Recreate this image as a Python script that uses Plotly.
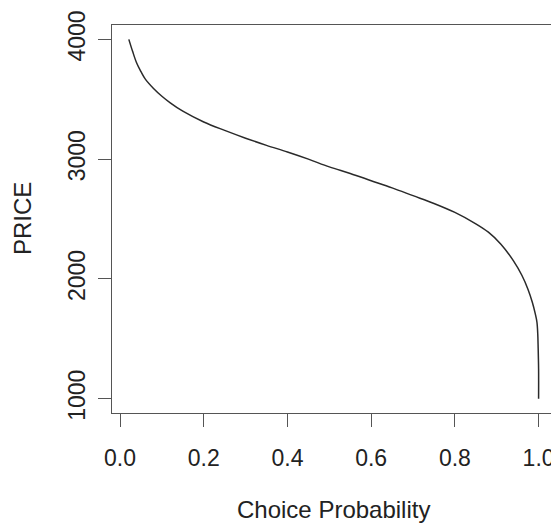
import plotly.graph_objects as go

# Values
choice_prob = [0.021, 0.030, 0.040, 0.050, 0.060, 0.080, 0.100, 0.120, 0.150, 0.200,
               0.250, 0.300, 0.350, 0.400, 0.450, 0.500, 0.550, 0.600, 0.650, 0.700,
               0.750, 0.800, 0.850, 0.880, 0.910, 0.940, 0.960, 0.975, 0.985, 0.992,
               0.996, 0.998, 0.999, 1.000, 1.000]
price = [4000, 3900, 3800, 3730, 3670, 3590, 3525, 3470, 3400, 3310,
         3240, 3175, 3115, 3060, 3000, 2935, 2880, 2820, 2760, 2695,
         2630, 2555, 2460, 2390, 2290, 2150, 2030, 1910, 1805, 1710,
         1640, 1540, 1420, 1250, 1000]

x_ticks = [0.0, 0.2, 0.4, 0.6, 0.8, 1.0]
x_ticktext = ["0.0", "0.2", "0.4", "0.6", "0.8", "1.0"]
y_ticks = [1000, 2000, 3000, 4000]
y_ticktext = ["1000", "2000", "3000", "4000"]

FONT = "Liberation Sans, Arial, sans-serif"
AXC = "#555555"
TXT = "#222222"
FS_TICK = 23
FS_TITLE = 24

fig = go.Figure()
fig.add_trace(go.Scatter(x=choice_prob, y=price, mode="lines",
                         line=dict(color="#2a2a2a", width=1.5, shape="spline", smoothing=1.0),
                         showlegend=False, hoverinfo="skip"))

# the page body adds an 8px offset, so the figure is sized 551x520
fig.update_layout(
    width=551, height=520,
    margin=dict(l=104, r=3, t=9, b=115),
    paper_bgcolor="white", plot_bgcolor="white",
    font=dict(family=FONT, size=FS_TICK, color=TXT),
    xaxis=dict(range=[-0.0192, 1.0392], tickvals=x_ticks, ticktext=x_ticktext,
               ticks="outside", ticklen=13, tickwidth=1.3, tickcolor=AXC,
               showline=True, linecolor=AXC, linewidth=1.3, mirror=True,
               showgrid=False, zeroline=False, ticklabelstandoff=11,
               ticklabeloverflow="allow",
               tickfont=dict(size=FS_TICK, color=TXT)),
    yaxis=dict(range=[880, 4120], tickvals=y_ticks, ticktext=y_ticktext,
               ticks="outside", ticklen=13, tickwidth=1.3, tickcolor=AXC,
               showline=True, linecolor=AXC, linewidth=1.3, mirror=True,
               showgrid=False, zeroline=False, tickangle=-90, ticklabelstandoff=4,
               ticklabeloverflow="allow",
               tickfont=dict(size=FS_TICK, color=TXT)),
    annotations=[
        dict(text="Choice Probability", xref="paper", yref="paper", x=0.5, y=-0.248,
             xanchor="center", yanchor="middle", showarrow=False,
             font=dict(family=FONT, size=FS_TITLE, color=TXT)),
        dict(text="PRICE", xref="paper", yref="paper", x=-0.203, y=0.5,
             xanchor="center", yanchor="middle", textangle=-90, showarrow=False,
             font=dict(family=FONT, size=FS_TITLE, color=TXT)),
    ],
)

fig.write_html("out.html")
